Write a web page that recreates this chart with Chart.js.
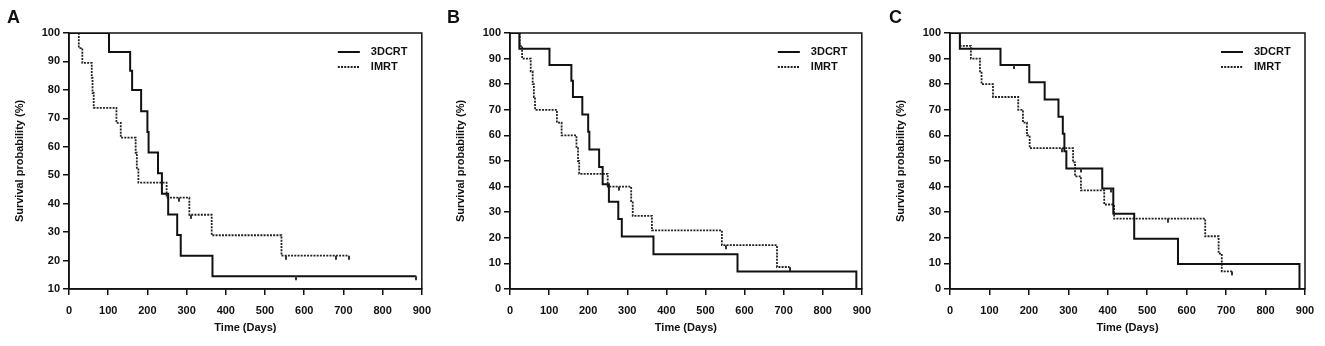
<!DOCTYPE html>
<html lang="en">
<head>
<meta charset="UTF-8">
<title>Survival curves</title>
<script src="https://cdn.jsdelivr.net/npm/chart.js"></script>
<style>
  body { margin: 0; background: #fff; }
  .wrap { position: relative; width: 1325px; height: 346px; }
  .panel { position: absolute; top: 0; height: 346px; }
  .letter { position: absolute; top: 8px; font: bold 18px/18px 'Liberation Sans', Arial, sans-serif; color: #111; }
</style>
</head>
<body>
<div class="wrap">
  <div class="panel" style="left:0;width:440px"><canvas id="chartA"></canvas></div>
  <div class="panel" style="left:440px;width:440px"><canvas id="chartB"></canvas></div>
  <div class="panel" style="left:880px;width:445px"><canvas id="chartC"></canvas></div>
  <div class="letter" style="left:7px">A</div>
  <div class="letter" style="left:447px">B</div>
  <div class="letter" style="left:889px">C</div>
</div>
<script>
// series names
const seriesNames = ['3DCRT', 'IMRT'];
const xTicks = [0, 100, 200, 300, 400, 500, 600, 700, 800, 900];

// panel A
const aTimes3d = [0, 102, 156, 161, 184, 200, 203, 227, 237, 253, 276, 285, 366];
const aSurv3d = [100, 93.3, 86.7, 80, 72.5, 65.2, 58, 50.7, 43.5, 36.2, 29, 21.7, 14.5];
const aCens3d = [580, 886];
const aTimesImrt = [0, 25, 34, 58, 60, 63, 121, 132, 170, 173, 177, 249, 307, 364, 542];
const aSurvImrt = [100, 94.7, 89.5, 84.2, 78.9, 73.7, 68.4, 63.2, 57.9, 52.6, 47.4, 42.1, 36.1, 28.9, 21.7];
const aCensImrt = [281, 312, 553, 681, 714];

// panel B
const bTimes3d = [0, 24, 101, 157, 161, 185, 200, 203, 228, 237, 253, 277, 286, 367, 582, 886];
const bSurv3d = [100, 93.8, 87.5, 81.3, 75, 68.2, 61.4, 54.5, 47.7, 40.9, 34.1, 27.3, 20.5, 13.6, 6.8, 0];
const bCens3d = [];
const bTimesImrt = [0, 25, 31, 53, 58, 61, 64, 120, 132, 170, 174, 177, 250, 310, 314, 363, 542, 683];
const bSurvImrt = [100, 95, 90, 85, 80, 75, 70, 65, 60, 55, 50, 45, 40, 34.3, 28.6, 22.9, 17.1, 8.6];
const bCensImrt = [280, 553, 715];

// panel C
const cTimes3d = [0, 25, 128, 201, 240, 275, 286, 290, 295, 386, 414, 467, 578, 886];
const cSurv3d = [100, 93.8, 87.5, 80.8, 74, 67.3, 60.6, 53.8, 47.1, 39.3, 29.4, 19.6, 9.8, 0];
const cCens3d = [161, 331, 408];
const cTimesImrt = [0, 25, 53, 76, 80, 109, 173, 185, 195, 202, 312, 317, 332, 391, 416, 647, 681, 689];
const cSurvImrt = [100, 95, 90, 85, 80, 75, 70, 65, 60, 55, 49.5, 44, 38.5, 33, 27.5, 20.6, 13.8, 6.9];
const cCensImrt = [283, 553, 715];

Chart.defaults.font.family = "'Liberation Sans', Arial, sans-serif";
Chart.defaults.font.size = 11;
Chart.defaults.font.weight = 'bold';
Chart.defaults.color = '#111';

// little tick hanging under the curve for censored cases
const censorMark = document.createElement('canvas');
censorMark.width = 2;
censorMark.height = 10;
const cm = censorMark.getContext('2d');
cm.fillStyle = '#333';
cm.fillRect(0, 5, 2, 4);

// event points + censored points (censored take the current survival value)
function kmPoints(times, surv, cens) {
  const pts = times.map((t, i) => ({ x: t, y: surv[i], c: false }));
  cens.forEach(t => {
    let s = surv[0];
    times.forEach((tt, i) => { if (tt <= t) s = surv[i]; });
    pts.push({ x: t, y: s, c: true });
  });
  return pts.sort((p, q) => p.x - q.x);
}

// box around the plot + legend inside top right
const boxAndLegend = {
  id: 'boxAndLegend',
  afterDraw(chart) {
    const { ctx, chartArea } = chart;
    ctx.save();
    ctx.strokeStyle = '#111';
    ctx.lineWidth = 1.5;
    ctx.strokeRect(chartArea.left, chartArea.top, chartArea.right - chartArea.left, chartArea.bottom - chartArea.top);

    const x = chartArea.right - 84;
    let y = chartArea.top + 19;
    chart.data.datasets.forEach(ds => {
      ctx.strokeStyle = ds.borderColor;
      ctx.lineWidth = ds.borderWidth;
      ctx.setLineDash(ds.borderDash || []);
      ctx.beginPath();
      ctx.moveTo(x, y);
      ctx.lineTo(x + 22, y);
      ctx.stroke();
      ctx.setLineDash([]);
      ctx.fillStyle = '#111';
      ctx.font = "bold 11px 'Liberation Sans', Arial, sans-serif";
      ctx.textBaseline = 'middle';
      ctx.fillText(ds.label, x + 33, y);
      y += 15;
    });
    ctx.restore();
  }
};

function curve(label, pts, dash) {
  return {
    label: label,
    data: pts,
    stepped: true,
    borderColor: dash ? '#222' : '#111',
    borderWidth: dash ? 1.8 : 2,
    borderDash: dash ? [2, 1.2] : [],
    fill: false,
    pointRadius: c => (c.raw && c.raw.c ? 3 : 0),
    pointStyle: c => (c.raw && c.raw.c ? censorMark : 'circle'),
    pointBorderWidth: 0
  };
}

function makePanel(id, s3d, sImrt, yMin, padLeft, padRight) {
  new Chart(document.getElementById(id), {
    type: 'line',
    data: {
      datasets: [
        curve(seriesNames[0], s3d, false),
        curve(seriesNames[1], sImrt, true)
      ]
    },
    options: {
      responsive: true,
      maintainAspectRatio: false,
      animation: false,
      events: [],
      layout: { padding: { left: padLeft, right: padRight, top: 33, bottom: 7 } },
      plugins: { legend: { display: false }, tooltip: { enabled: false } },
      scales: {
        x: {
          type: 'linear',
          min: 0,
          max: 900,
          afterFit: sc => { sc.height = 50; },
          afterBuildTicks: sc => { sc.ticks = xTicks.map(v => ({ value: v })); },
          ticks: { padding: 9, color: '#111' },
          grid: { drawOnChartArea: false, drawTicks: true, tickLength: 6, color: '#111', lineWidth: 1.5 },
          border: { color: '#111', width: 1.5 },
          title: { display: true, text: 'Time (Days)', color: '#111', padding: { top: 2, bottom: 4 } }
        },
        y: {
          min: yMin,
          max: 100,
          afterFit: sc => { sc.width = 60; },
          ticks: { stepSize: 10, padding: 3, color: '#111' },
          grid: { drawOnChartArea: false, drawTicks: true, tickLength: 6, color: '#111', lineWidth: 1.5 },
          border: { color: '#111', width: 1.5 },
          title: { display: true, text: 'Survival probability (%)', color: '#111', padding: { top: 4, bottom: 4 } }
        }
      }
    },
    plugins: [boxAndLegend]
  });
}

makePanel('chartA', kmPoints(aTimes3d, aSurv3d, aCens3d), kmPoints(aTimesImrt, aSurvImrt, aCensImrt), 10, 9, 18);
makePanel('chartB', kmPoints(bTimes3d, bSurv3d, bCens3d), kmPoints(bTimesImrt, bSurvImrt, bCensImrt), 0, 10, 17);
makePanel('chartC', kmPoints(cTimes3d, cSurv3d, cCens3d), kmPoints(cTimesImrt, cSurvImrt, cCensImrt), 0, 10, 20);
</script>
</body>
</html>
